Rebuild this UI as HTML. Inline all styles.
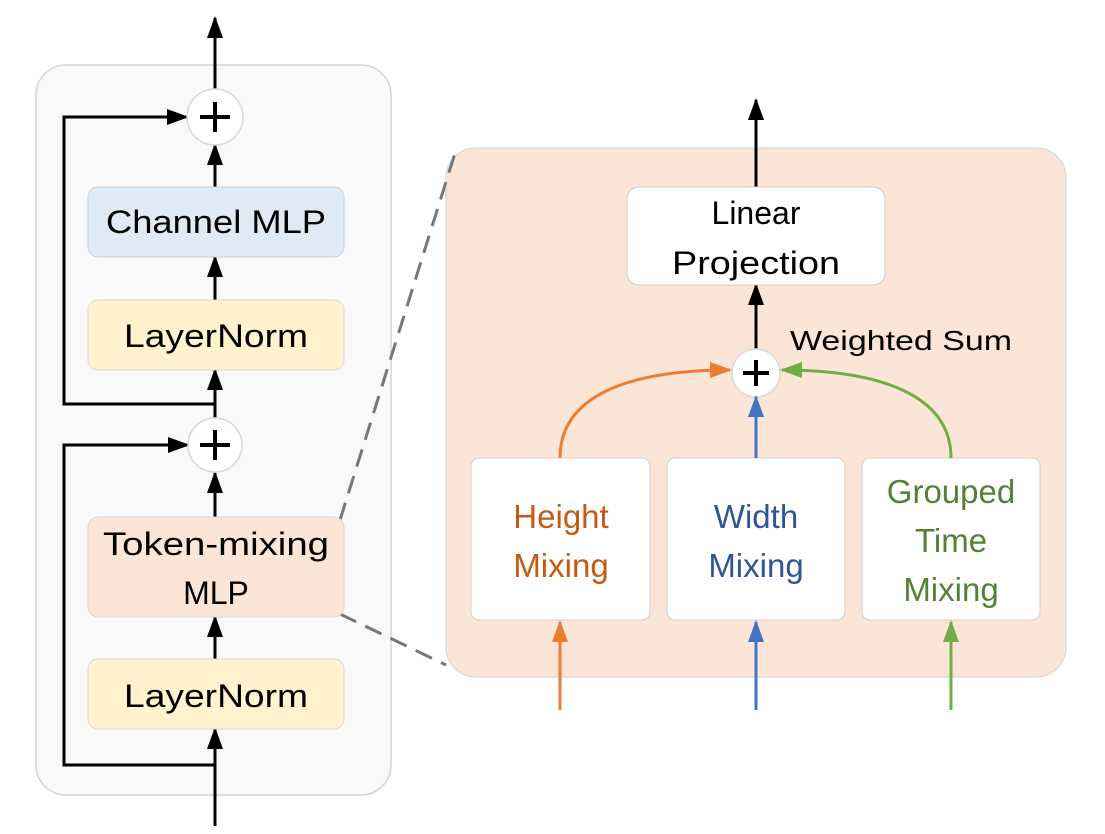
<!DOCTYPE html>
<html><head><meta charset="utf-8"><style>
html,body{margin:0;padding:0;background:#fff}
svg{display:block}
text{font-family:"Liberation Sans",sans-serif;text-anchor:middle}
</style></head><body>
<svg width="1105" height="834" viewBox="0 0 1105 834" xmlns="http://www.w3.org/2000/svg">
<defs>
<marker id="ab" markerWidth="22" markerHeight="16" refX="20" refY="8" orient="auto" markerUnits="userSpaceOnUse" viewBox="0 0 22 16"><path d="M0,0 L22,8 L0,16 z" fill="#000"/></marker>
<marker id="ao" markerWidth="22" markerHeight="16" refX="20" refY="8" orient="auto" markerUnits="userSpaceOnUse" viewBox="0 0 22 16"><path d="M0,0 L22,8 L0,16 z" fill="#ed7d31"/></marker>
<marker id="abl" markerWidth="22" markerHeight="16" refX="20" refY="8" orient="auto" markerUnits="userSpaceOnUse" viewBox="0 0 22 16"><path d="M0,0 L22,8 L0,16 z" fill="#4472c4"/></marker>
<marker id="ag" markerWidth="22" markerHeight="16" refX="20" refY="8" orient="auto" markerUnits="userSpaceOnUse" viewBox="0 0 22 16"><path d="M0,0 L22,8 L0,16 z" fill="#70ad47"/></marker>
</defs>
<rect x="36" y="65" width="355" height="730" rx="30" fill="#f9f9f9" stroke="#d4d4d4" stroke-width="1.5"/>
<rect x="446" y="148" width="620" height="529" rx="30" fill="#fbe5d6" stroke="#dcdcdc" stroke-width="1.5"/>
<line x1="340" y1="520" x2="456" y2="150" stroke="#777" stroke-width="3" stroke-dasharray="18,10"/>
<line x1="340" y1="614" x2="446" y2="665" stroke="#777" stroke-width="3" stroke-dasharray="18,10"/>
<g stroke="#000" stroke-width="3" fill="none">
<line x1="215" y1="90" x2="215" y2="18" marker-end="url(#ab)"/>
<polyline points="215,404 64,404 64,117 187,117" marker-end="url(#ab)"/>
<line x1="215" y1="187" x2="215" y2="145" marker-end="url(#ab)"/>
<line x1="215" y1="300" x2="215" y2="257" marker-end="url(#ab)"/>
<line x1="215" y1="418" x2="215" y2="370" marker-end="url(#ab)"/>
<polyline points="215,765 64,765 64,445 188,445" marker-end="url(#ab)"/>
<line x1="215" y1="517" x2="215" y2="473" marker-end="url(#ab)"/>
<line x1="215" y1="659" x2="215" y2="617" marker-end="url(#ab)"/>
<line x1="215" y1="826" x2="215" y2="729" marker-end="url(#ab)"/>
<line x1="756" y1="187" x2="756" y2="100" marker-end="url(#ab)"/>
<line x1="756" y1="349" x2="756" y2="285" marker-end="url(#ab)"/>
</g>
<rect x="88" y="187" width="256" height="70" rx="10" fill="#deeaf6" stroke="#cfcfcf"/>
<rect x="88" y="300" width="256" height="70" rx="10" fill="#fff2cc" stroke="#d8d8d8"/>
<rect x="88" y="517" width="256" height="100" rx="10" fill="#fbe5d6" stroke="#d8d8d8"/>
<rect x="88" y="659" width="256" height="70" rx="10" fill="#fff2cc" stroke="#d8d8d8"/>
<g font-size="32" fill="#000">
<text x="216" y="233" textLength="220" lengthAdjust="spacingAndGlyphs">Channel MLP</text>
<text x="216" y="347" textLength="184" lengthAdjust="spacingAndGlyphs">LayerNorm</text>
<text x="216" y="555" textLength="226" lengthAdjust="spacingAndGlyphs">Token-mixing</text>
<text x="216" y="604">MLP</text>
<text x="216" y="707" textLength="184" lengthAdjust="spacingAndGlyphs">LayerNorm</text>
</g>
<g stroke="#d8d8d8" stroke-width="1.5" fill="#fff">
<circle cx="215" cy="117" r="28"/>
<circle cx="215" cy="445" r="27"/>
<circle cx="756" cy="373" r="24"/>
</g>
<g stroke="#000" stroke-width="4">
<line x1="200" y1="117" x2="230" y2="117"/><line x1="215" y1="102" x2="215" y2="132"/>
<line x1="200" y1="445" x2="230" y2="445"/><line x1="215" y1="430" x2="215" y2="460"/>
<line x1="743" y1="373" x2="769" y2="373"/><line x1="756" y1="360" x2="756" y2="386"/>
</g>
<rect x="627" y="187" width="258" height="98" rx="12" fill="#fff" stroke="#d0d0d0"/>
<text x="756" y="224" font-size="32">Linear</text>
<text x="756" y="274" font-size="32" textLength="168" lengthAdjust="spacingAndGlyphs">Projection</text>
<text x="901" y="350" font-size="28" textLength="222" lengthAdjust="spacingAndGlyphs">Weighted Sum</text>
<rect x="471" y="458" width="179" height="162" rx="8" fill="#fff" stroke="#d0d0d0"/>
<rect x="667" y="458" width="178" height="162" rx="8" fill="#fff" stroke="#d0d0d0"/>
<rect x="862" y="458" width="178" height="162" rx="8" fill="#fff" stroke="#d0d0d0"/>
<g font-size="33">
<text x="561" y="528" fill="#c55a11">Height</text>
<text x="561" y="577" fill="#c55a11">Mixing</text>
<text x="756" y="528" fill="#2f5597">Width</text>
<text x="756" y="577" fill="#2f5597">Mixing</text>
<text x="951" y="503" fill="#538135">Grouped</text>
<text x="951" y="552" fill="#538135">Time</text>
<text x="951" y="601" fill="#538135">Mixing</text>
</g>
<g stroke-width="3" fill="none">
<path d="M560,458 C560,395 630,370 730,370" stroke="#ed7d31" marker-end="url(#ao)"/>
<line x1="756" y1="458" x2="756" y2="397" stroke="#4472c4" marker-end="url(#abl)"/>
<path d="M951,458 C951,395 880,370 782,370" stroke="#70ad47" marker-end="url(#ag)"/>
<line x1="560" y1="710" x2="560" y2="622" stroke="#ed7d31" marker-end="url(#ao)"/>
<line x1="756" y1="710" x2="756" y2="622" stroke="#4472c4" marker-end="url(#abl)"/>
<line x1="951" y1="710" x2="951" y2="622" stroke="#70ad47" marker-end="url(#ag)"/>
</g>
</svg>
</body></html>
